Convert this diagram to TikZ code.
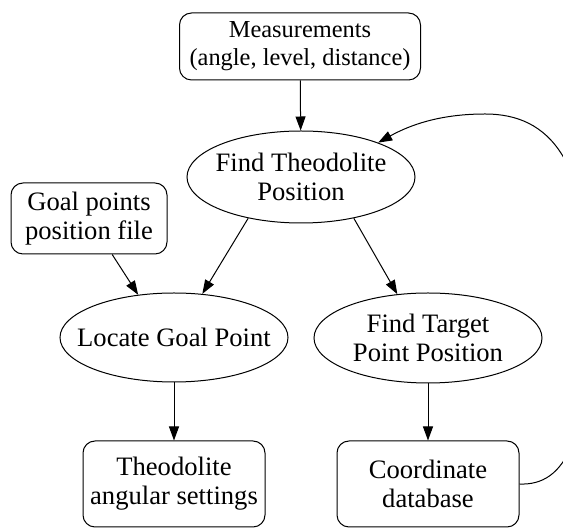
\documentclass[tikz,border=0pt]{standalone}
\usepackage{fontspec}
\setmainfont{Liberation Serif}
\usetikzlibrary{arrows.meta,shapes.geometric}

\begin{document}
\begin{tikzpicture}[
  x=0.5pt,
  y=-0.5pt,
  font=\fontsize{13.3}{14.5}\selectfont,
  process/.style={
    ellipse,
    draw=black,
    line width=0.5pt,
    minimum width=114pt,
    minimum height=46pt,
    inner xsep=-8.5pt,
    inner ysep=0pt,
    align=center
  },
  datafile/.style={
    rectangle,
    rounded corners=6pt,
    draw=black,
    line width=0.5pt,
    minimum width=91pt,
    minimum height=43pt,
    inner sep=0pt,
    align=center
  },
  edge/.style={draw=black, line width=0.5pt,
    -{Triangle[length=7pt,width=5pt]}}
]

\useasboundingbox (0,0) rectangle (563,528);

\node[datafile, minimum width=120.5pt, minimum height=33.5pt,
  font=\fontsize{12.2}{14}\selectfont] (meas) at (300,46.5)
  {Measurements\\(angle, level, distance)};
\node[process] (theo) at (301,177) {Find Theodolite\\Position};
\node[datafile, minimum width=78pt, minimum height=35.5pt] (goal) at (89,218.5)
  {Goal points\\position file};
\node[process, minimum height=44.5pt] (locate) at (174,337.5) {Locate Goal Point};
\node[process, minimum height=45pt] (target) at (428,338) {Find Target\\Point Position};
\node[datafile] (angular) at (174,484) {Theodolite\\angular settings};
\node[datafile] (coord) at (428,484) {Coordinate\\database};

\draw[edge] (meas) -- (theo);
\draw[edge] (theo.218) -- (locate.57);
\draw[edge] (goal) -- (locate.130);
\draw[edge] (theo.322) -- (target.125);
\draw[edge] (locate) -- (angular);
\draw[edge] (target) -- (coord);

% feedback of the database
\coordinate (loopR) at (590,300);
\coordinate (loopT) at (485,114);
\draw[edge] (coord.east) .. controls (565,486) and (590,440) .. (loopR)
  .. controls (590,160) and (550,114) .. (loopT)
  .. controls (440,114) and (410,125) .. (theo.24);

\end{tikzpicture}
\end{document}
